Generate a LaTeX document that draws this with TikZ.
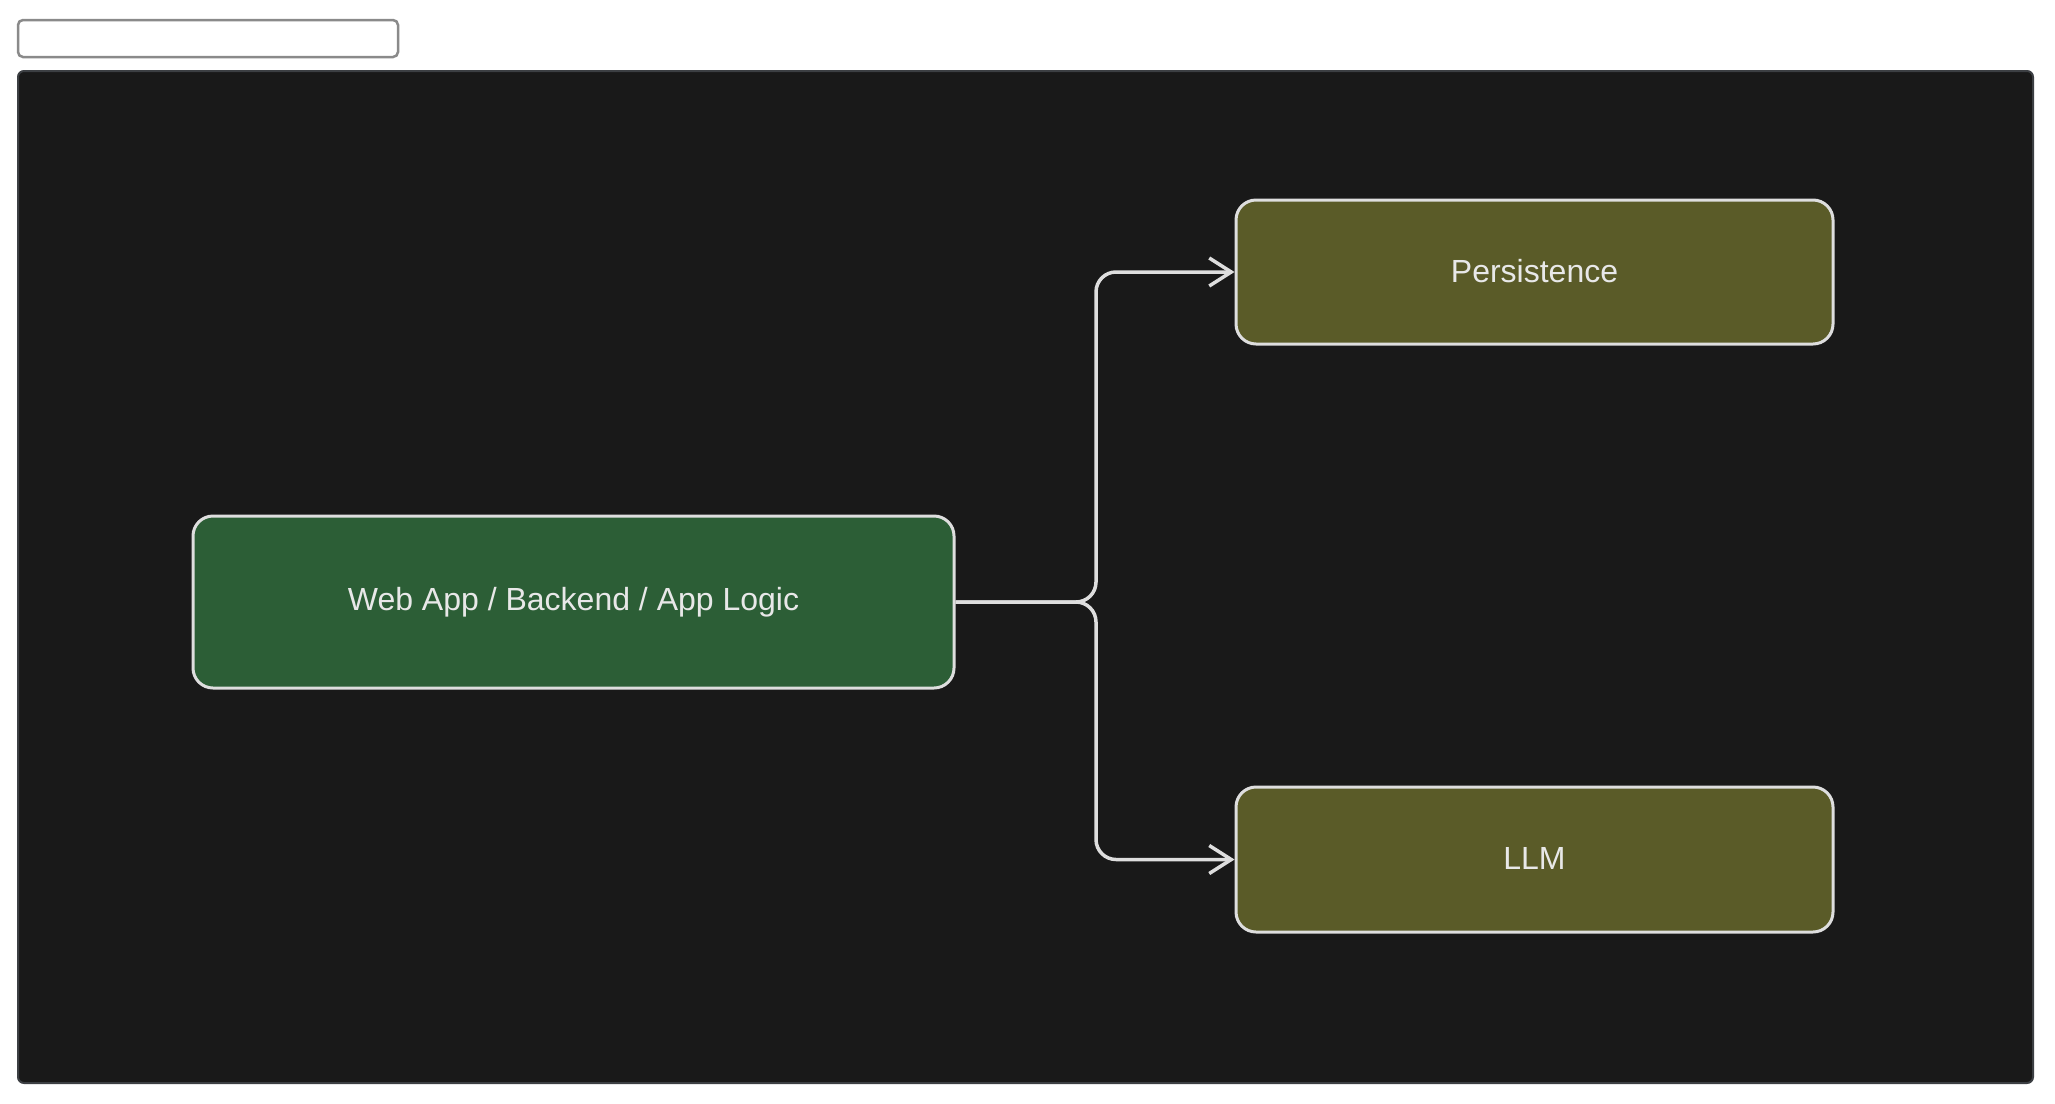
\documentclass[tikz,border=0pt]{standalone}
\usepackage{fontspec}
\setmainfont{Liberation Sans}
\usetikzlibrary{arrows.meta}
\definecolor{framefill}{HTML}{191919}
\definecolor{frameline}{HTML}{3C3F43}
\definecolor{webfill}{HTML}{2C5E36}
\definecolor{olivefill}{HTML}{5A5B28}
\definecolor{boxline}{HTML}{DEDEDE}
\definecolor{txt}{HTML}{E8E8E8}
\definecolor{topline}{HTML}{8A8A8A}
\tikzset{
  compbox/.style={draw=boxline, line width=3pt, rounded corners=20pt, inner sep=0pt,
    text=txt, font=\fontsize{32}{38}\selectfont},
  conn/.style={draw=boxline, line width=3.5pt, rounded corners=20pt,
    -{Straight Barb[length=22pt, width=28pt, line width=3.5pt]}},
}
\begin{document}
\begin{tikzpicture}[x=1pt, y=-1pt]
\useasboundingbox (0,0) rectangle (2055,1103);
\fill[white] (0,0) rectangle (2055,1103);
% top empty box
\draw[topline, line width=2.5pt, rounded corners=5pt, fill=white] (18,20) rectangle (398,57);
% dark frame
\draw[frameline, line width=2pt, rounded corners=6pt, fill=framefill] (18,71) rectangle (2033,1083);
% nodes
\node[compbox, fill=webfill, minimum width=761pt, minimum height=172pt] (webapp) at (573.5,602) {Web App / Backend / App Logic};
\node[compbox, fill=olivefill, minimum width=597pt, minimum height=144pt, text depth=2pt] (persist) at (1534.5,272) {Persistence};
\node[compbox, fill=olivefill, minimum width=597pt, minimum height=145pt, text depth=3pt] (llm) at (1534.5,859.5) {LLM};
\coordinate (fork) at (1096,602);
% connectors
\draw[conn] (webapp.east) -- (fork) |- (persist.west);
\draw[conn] (webapp.east) -- (fork) |- (llm.west);
\end{tikzpicture}
\end{document}
